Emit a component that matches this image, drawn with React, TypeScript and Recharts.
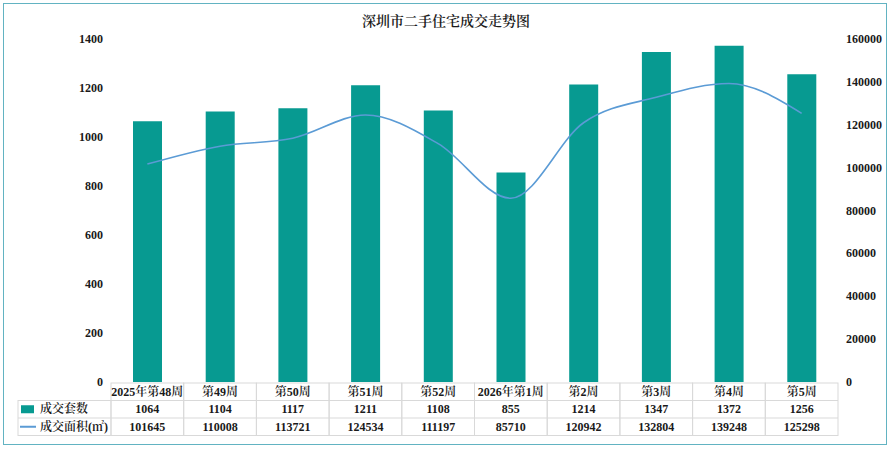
import { ComposedChart, Bar, Line, XAxis, YAxis } from "recharts";

const categories = [
  "2025年第48周",
  "第49周",
  "第50周",
  "第51周",
  "第52周",
  "2026年第1周",
  "第2周",
  "第3周",
  "第4周",
  "第5周",
];
const units = [1064, 1104, 1117, 1211, 1108, 855, 1214, 1347, 1372, 1256];
const areas = [101645, 110008, 113721, 124534, 111197, 85710, 120942, 132804, 139248, 125298];
const leftTicks = [0, 200, 400, 600, 800, 1000, 1200, 1400];
const rightTicks = [0, 20000, 40000, 60000, 80000, 100000, 120000, 140000, 160000];

const data = categories.map((name, i) => ({ name, units: units[i], area: areas[i] }));

const W = 892;
const H = 450;
const margin = { top: 39, right: 4, left: 51, bottom: 16 };
const leftW = 60;
const rightW = 50;
const plotW = W - margin.left - margin.right - leftW - rightW;
const plotRight = W - margin.right - rightW;
const colW = plotW / categories.length;
const rowH = 17.5;
const legendW = 93;

const font = "'Liberation Serif', 'Noto Serif CJK SC', 'Noto Sans CJK SC', serif";
const barColor = "#079a91";
const lineColor = "#5b9bd5";
const gridColor = "#d9d9d9";
const textStyle = { fontFamily: font, fontSize: 12, fontWeight: 600, fill: "#1a1a1a" };

function TableTick(props: any) {
  const { x, y, index } = props;
  const x0 = x - colW / 2;
  const top = y + 1;
  return (
    <g>
      <rect x={x0} y={top} width={colW} height={rowH * 3} fill="none" stroke={gridColor} strokeWidth={1} />
      <line x1={x0} x2={x0 + colW} y1={top + rowH} y2={top + rowH} stroke={gridColor} />
      <line x1={x0} x2={x0 + colW} y1={top + rowH * 2} y2={top + rowH * 2} stroke={gridColor} />
      <text x={x} y={top + rowH / 2 + 4} textAnchor="middle" style={textStyle}>
        {categories[index]}
      </text>
      <text x={x} y={top + rowH * 1.5 + 4} textAnchor="middle" style={textStyle}>
        {units[index]}
      </text>
      <text x={x} y={top + rowH * 2.5 + 4} textAnchor="middle" style={textStyle}>
        {areas[index]}
      </text>
      {index === 0 && (
        <g>
          <rect x={x0 - legendW} y={top + rowH} width={legendW} height={rowH * 2} fill="none" stroke={gridColor} />
          <line x1={x0 - legendW} x2={x0} y1={top + rowH * 2} y2={top + rowH * 2} stroke={gridColor} />
          <rect x={x0 - legendW + 3} y={top + rowH * 1.5 - 4} width={13} height={8} fill={barColor} />
          <text x={x0 - legendW + 22} y={top + rowH * 1.5 + 4} style={textStyle}>
            成交套数
          </text>
          <line
            x1={x0 - legendW + 2}
            x2={x0 - legendW + 18}
            y1={top + rowH * 2.5}
            y2={top + rowH * 2.5}
            stroke={lineColor}
            strokeWidth={2}
          />
          <text x={x0 - legendW + 22} y={top + rowH * 2.5 + 4} style={textStyle}>
            成交面积(㎡)
          </text>
        </g>
      )}
    </g>
  );
}

// right-hand labels sit just past the plot edge, left aligned
function RightTick(props: any) {
  const { y, payload } = props;
  return (
    <text x={plotRight + 8} y={y + 4} textAnchor="start" style={{ ...textStyle, textAnchor: "start" }}>
      {payload.value}
    </text>
  );
}

export default function App() {
  return (
    <div style={{ position: "absolute", left: 0, top: 0, width: W, height: H, background: "#fff" }}>
      <div
        style={{
          position: "absolute",
          left: 3,
          top: 3,
          width: W - 8,
          height: H - 8,
          border: "1px solid #62b3c2",
          boxSizing: "border-box",
        }}
      />
      <div
        style={{
          position: "absolute",
          left: 0,
          top: 10,
          width: W,
          textAlign: "center",
          fontFamily: font,
          fontSize: 14,
          fontWeight: 600,
          color: "#1a1a1a",
        }}
      >
        深圳市二手住宅成交走势图
      </div>
      <ComposedChart width={W} height={H} data={data} margin={margin}>
        <XAxis
          dataKey="name"
          height={52}
          interval={0}
          tickSize={0}
          tickMargin={0}
          axisLine={false}
          tickLine={false}
          tick={<TableTick />}
        />
        <YAxis
          yAxisId="left"
          width={leftW}
          domain={[0, 1400]}
          ticks={leftTicks}
          axisLine={false}
          tickLine={false}
          tick={textStyle}
        />
        <YAxis
          yAxisId="right"
          orientation="right"
          width={rightW}
          domain={[0, 160000]}
          ticks={rightTicks}
          axisLine={false}
          tickLine={false}
          tick={<RightTick />}
        />
        <Bar yAxisId="left" dataKey="units" fill={barColor} barSize={29} isAnimationActive={false} />
        <Line
          yAxisId="right"
          type="monotone"
          dataKey="area"
          stroke={lineColor}
          strokeWidth={1.6}
          dot={false}
          isAnimationActive={false}
        />
      </ComposedChart>
    </div>
  );
}
